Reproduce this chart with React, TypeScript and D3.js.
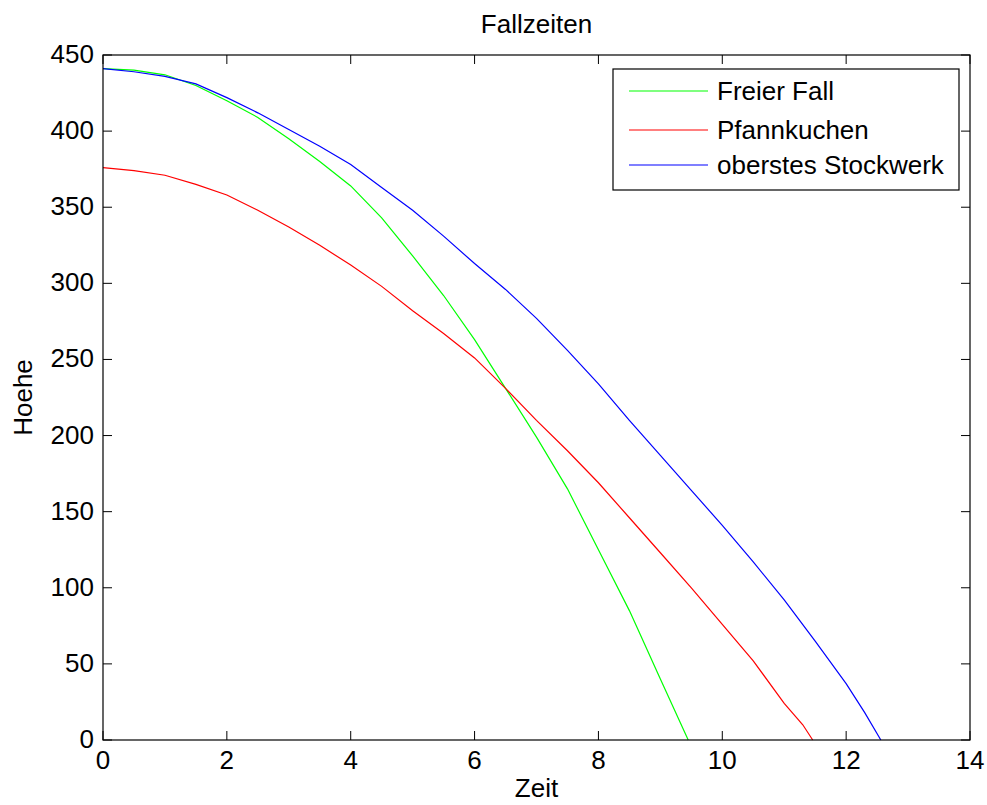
import React from "react";
import * as d3 from "d3";

const WIDTH = 987;
const HEIGHT = 805;
const Margin = { top: 55, right: 17, bottom: 65, left: 103 };
const FONT = "'Liberation Sans', Arial, sans-serif";
const FS = 26;

const xTicks = [0, 2, 4, 6, 8, 10, 12, 14];
const yTicks = [0, 50, 100, 150, 200, 250, 300, 350, 400, 450];

// Freier Fall
const freeT = [0, 0.5, 1, 1.5, 2, 2.5, 3, 3.5, 4, 4.5, 5, 5.5, 6, 6.5, 7, 7.5, 8, 8.5, 9, 9.45];
const freeH = [441, 440, 437, 430, 420, 409, 395, 380, 364, 343, 318, 292, 263, 231, 199, 165, 125, 85, 40, 0];

// Pfannkuchen
const panT = [0, 0.5, 1, 1.5, 2, 2.5, 3, 3.5, 4, 4.5, 5, 5.5, 6, 6.5, 7, 7.5, 8, 8.5, 9, 9.5, 10, 10.5, 11, 11.3, 11.46];
const panH = [376, 374, 371, 365, 358, 348, 337, 325, 312, 298, 282, 267, 251, 231, 210, 190, 169, 146, 123, 100, 76, 52, 24, 10, 0];

// oberstes Stockwerk
const topT = [0, 0.5, 1, 1.5, 2, 2.5, 3, 3.5, 4, 4.5, 5, 5.5, 6, 6.5, 7, 7.5, 8, 8.5, 9, 9.5, 10, 10.5, 11, 11.5, 12, 12.3, 12.56];
const topH = [441, 439, 436, 431, 422, 412, 401, 390, 378, 363, 348, 331, 313, 296, 277, 256, 234, 210, 187, 164, 141, 117, 92, 65, 37, 18, 0];

const seriesNames = ["Freier Fall", "Pfannkuchen", "oberstes Stockwerk"];
const seriesColors = ["#00ff00", "#ff0000", "#0000ff"];

const App = () => {
  const x0 = Margin.left;
  const x1 = WIDTH - Margin.right;
  const y0 = HEIGHT - Margin.bottom;
  const y1 = Margin.top;

  const xScale = d3.scaleLinear().domain([0, 14]).range([x0, x1]);
  const yScale = d3.scaleLinear().domain([0, 450]).range([y0, y1]);

  const line = d3
    .line<[number, number]>()
    .x((d) => xScale(d[0]))
    .y((d) => yScale(d[1]));

  const series = [
    d3.zip(freeT, freeH) as [number, number][],
    d3.zip(panT, panH) as [number, number][],
    d3.zip(topT, topH) as [number, number][]
  ];

  const tick = 9;
  const legend = { x: 613, y: 69, w: 346, h: 121 };
  const legendRows = [91, 130, 165];

  return (
    <svg
      width={WIDTH}
      height={HEIGHT}
      style={{ position: "absolute", left: 0, top: 0, background: "#fff" }}
      fontFamily={FONT}
    >
      <rect x={0} y={0} width={WIDTH} height={HEIGHT} fill="#fff" />

      {/* data */}
      {series.map((pts, i) => (
        <path key={i} d={line(pts) || ""} fill="none" stroke={seriesColors[i]} strokeWidth={1.2} />
      ))}

      {/* box */}
      <rect x={x0} y={y1} width={x1 - x0} height={y0 - y1} fill="none" stroke="#000" strokeWidth={1.2} />

      {/* x ticks */}
      {xTicks.map((t) => (
        <g key={t} transform={`translate(${xScale(t)}, 0)`}>
          <line y1={y0} y2={y0 - tick} stroke="#000" />
          <line y1={y1} y2={y1 + tick} stroke="#000" />
          <text y={y0 + 29} textAnchor="middle" style={{ fontSize: FS }}>
            {t}
          </text>
        </g>
      ))}

      {/* y ticks */}
      {yTicks.map((t) => (
        <g key={t} transform={`translate(0, ${yScale(t)})`}>
          <line x1={x0} x2={x0 + tick} stroke="#000" />
          <line x1={x1} x2={x1 - tick} stroke="#000" />
          <text x={x0 - 9} y={8} textAnchor="end" style={{ fontSize: FS }}>
            {t}
          </text>
        </g>
      ))}

      {/* titles */}
      <text x={(x0 + x1) / 2} y={33} textAnchor="middle" style={{ fontSize: FS }}>
        Fallzeiten
      </text>
      <text x={(x0 + x1) / 2} y={797} textAnchor="middle" style={{ fontSize: FS }}>
        Zeit
      </text>
      <text
        transform={`translate(32, ${(y0 + y1) / 2}) rotate(-90)`}
        textAnchor="middle"
        style={{ fontSize: FS }}
      >
        Hoehe
      </text>

      {/* legend */}
      <rect x={legend.x} y={legend.y} width={legend.w} height={legend.h} fill="#fff" stroke="#000" strokeWidth={1.2} />
      {seriesNames.map((name, i) => (
        <g key={name}>
          <line x1={629} x2={708} y1={legendRows[i]} y2={legendRows[i]} stroke={seriesColors[i]} strokeWidth={1.2} />
          <text x={717} y={legendRows[i] + 9} style={{ fontSize: FS }}>
            {name}
          </text>
        </g>
      ))}
    </svg>
  );
};

export default App;
